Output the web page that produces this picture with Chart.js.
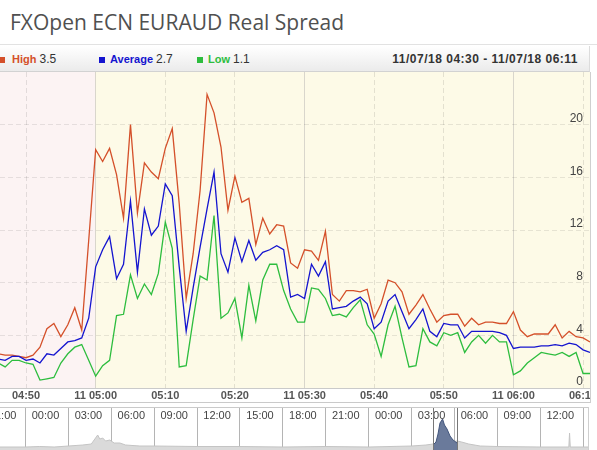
<!DOCTYPE html>
<html lang="en">
<head>
<meta charset="UTF-8">
<title>FXOpen ECN EURAUD Real Spread</title>
<script src="https://cdn.jsdelivr.net/npm/chart.js@4.4.0/dist/chart.umd.min.js"></script>
<style>
    body { margin: 0; width: 597px; height: 450px; overflow: hidden; background: #fff; position: relative;
           font-family: "Liberation Sans", Arial, sans-serif; }
    #title { position: absolute; left: 10px; top: 8px; line-height: 21px; font: 21px "Open Sans", sans-serif; color: #505050; white-space: nowrap; }
    #sep { position: absolute; left: 0; top: 44px; width: 597px; border-top: 1px solid #e2e2e2; }
    #bar { position: absolute; left: 0; top: 46px; width: 589px; height: 25px; background: linear-gradient(#ffffff, #ebebeb);
           border-bottom: 1px solid #d2d2d2; border-right: 1px solid #dcdcdc; }
    .sq { position: absolute; top: 57px; width: 6px; height: 6px; }
    .lg { position: absolute; top: 53px; line-height: 12px; font-size: 11px; font-weight: bold; white-space: nowrap; }
    .lg span { color: #333; font-weight: normal; font-size: 12px; }
    #range { position: absolute; right: 19px; top: 53px; line-height: 12px; font-size: 12px; font-weight: bold; color: #333; letter-spacing: 0.5px; }
    #main { position: absolute; left: 0; top: 72px; }
    #nav { position: absolute; left: 0; top: 407px; }
    .hl { position: absolute; left: 0; height: 0; border-top: 1px solid #cacaca; }
    .vl { position: absolute; width: 0; border-left: 1px solid #cfcfcf; }
</style>
</head>
<body>
    <div id="title">FXOpen ECN EURAUD Real Spread</div>
    <div id="sep"></div>
    <div id="bar"></div>
    <div class="sq" style="left:-1px;background:#d4502a"></div>
    <div class="lg" style="left:12px;color:#d4502a">High <span>3.5</span></div>
    <div class="sq" style="left:99px;background:#1414cf"></div>
    <div class="lg" style="left:110px;color:#1414cf">Average <span>2.7</span></div>
    <div class="sq" style="left:197px;background:#2dbd3e"></div>
    <div class="lg" style="left:208px;color:#2dbd3e">Low <span>1.1</span></div>
    <div id="range">11/07/18 04:30 - 11/07/18 06:11</div>

    <canvas id="main" width="590" height="331"></canvas>
    <canvas id="nav" width="588" height="43"></canvas>

    <div class="hl" style="top:388px;width:590px"></div>
    <div class="hl" style="top:402px;width:590px"></div>
    <div class="hl" style="top:407px;width:588px"></div>
    <div class="vl" style="left:590px;top:72px;height:331px"></div>
    <div class="vl" style="left:588px;top:407px;height:43px"></div>

<script>
// one point per minute, 04:46 .. 06:11
var times = [
    '04:46','04:47','04:48','04:49','04:50','04:51','04:52','04:53','04:54','04:55','04:56','04:57','04:58','04:59',
    '05:00','05:01','05:02','05:03','05:04','05:05','05:06','05:07','05:08','05:09','05:10','05:11','05:12','05:13',
    '05:14','05:15','05:16','05:17','05:18','05:19','05:20','05:21','05:22','05:23','05:24','05:25','05:26','05:27',
    '05:28','05:29','05:30','05:31','05:32','05:33','05:34','05:35','05:36','05:37','05:38','05:39','05:40','05:41',
    '05:42','05:43','05:44','05:45','05:46','05:47','05:48','05:49','05:50','05:51','05:52','05:53','05:54','05:55',
    '05:56','05:57','05:58','05:59','06:00','06:01','06:02','06:03','06:04','06:05','06:06','06:07','06:08','06:09',
    '06:10','06:11'
];
var high = [
    2.6, 2.5, 2.5, 2.4, 2.3, 2.5, 3.1, 4.5, 4.9, 3.9, 4.8, 6.1, 4.4, 11.2,
    18.1, 17.2, 18.2, 16.2, 12.9, 20.0, 13.3, 17.1, 16.4, 15.9, 18.2, 19.7, 14.0, 6.8,
    10.2, 15.0, 22.3, 20.9, 18.3, 13.5, 16.1, 14.1, 14.4, 10.9, 12.9, 11.7, 12.4, 12.3,
    9.5, 9.1, 10.5, 10.4, 9.7, 11.9, 7.1, 6.6, 7.4, 7.4, 7.3, 7.5, 5.3, 6.4,
    8.2, 8.0, 7.3, 5.6, 6.3, 7.1, 6.0, 5.0, 5.5, 5.6, 5.6, 4.7, 5.3, 4.8,
    5.0, 5.0, 4.9, 4.9, 5.8, 4.4, 3.9, 4.1, 4.1, 4.1, 4.8, 3.8, 4.3, 3.9,
    3.8, 3.5
];
var average = [
    2.2, 2.1, 2.4, 2.4, 2.1, 2.2, 1.9, 2.6, 2.5, 3.0, 3.5, 3.6, 3.8, 5.3,
    9.2, 10.5, 11.5, 8.3, 9.4, 14.2, 8.8, 13.6, 11.6, 12.3, 15.5, 14.6, 9.2, 4.3,
    7.6, 10.7, 13.6, 16.4, 10.2, 8.8, 11.4, 9.6, 11.2, 9.7, 10.3, 10.5, 10.8, 10.5,
    6.9, 7.1, 6.8, 9.4, 8.5, 9.6, 6.0, 6.1, 6.2, 6.6, 6.9, 6.4, 4.5, 5.0,
    6.6, 7.1, 5.8, 4.5, 5.2, 6.0, 4.3, 3.9, 4.9, 4.8, 4.8, 3.8, 4.3, 4.3,
    4.3, 4.3, 4.2, 4.0, 3.0, 3.1, 3.1, 3.1, 3.2, 3.2, 3.3, 3.2, 3.4, 3.3,
    2.9, 2.7
];
var low = [
    1.9, 1.6, 2.1, 2.1, 1.9, 1.8, 0.6, 0.7, 0.8, 1.9, 2.6, 3.1, 3.3, 2.1,
    0.9, 1.7, 2.1, 5.5, 5.6, 8.6, 6.8, 7.9, 7.1, 8.7, 12.6, 10.6, 1.6, 1.7,
    5.2, 8.5, 8.2, 13.1, 5.3, 5.7, 6.8, 3.8, 7.8, 5.1, 8.2, 9.4, 9.4, 7.4,
    6.0, 5.0, 5.0, 7.6, 7.5, 6.8, 5.5, 5.6, 5.4, 6.1, 6.7, 4.8, 4.1, 2.4,
    4.8, 6.2, 3.8, 1.6, 1.7, 4.5, 3.5, 3.2, 4.2, 4.0, 4.2, 2.7, 3.5, 4.0,
    3.4, 4.0, 3.5, 3.5, 1.0, 1.3, 1.9, 2.3, 2.7, 2.6, 2.5, 2.7, 2.4, 2.7,
    1.1, 1.1
];
var tickTimes = ['04:50', '05:00', '05:10', '05:20', '05:30', '05:40', '05:50', '06:00', '06:10'];
var tickLabels = ['04:50', '11 05:00', '05:10', '05:20', '11 05:30', '05:40', '05:50', '11 06:00', '06:10'];
var yTicks = [0, 4, 8, 12, 16, 20];

// navigator: hours from 00:00 of the previous day, heights
var navHours  = [-1.8, 0, 1, 2, 3, 4, 4.6, 4.9, 5.05, 5.2, 5.4, 5.6, 5.9, 6.2, 6.6, 7, 8, 9, 12, 15, 18, 21, 24, 27, 28, 28.5,
                 30.2, 30.5, 31, 31.8, 33, 36, 38, 38.05, 38.1, 39.4];
var navValues = [3, 3, 3.5, 3, 4, 5, 6, 12, 15, 11, 12, 9, 10, 7, 7, 5, 4, 4, 3.5, 3.5, 3, 3.5, 3, 4, 5, 6,
                 9, 8, 6, 4, 3.5, 3, 3, 17, 3, 3];
var selHours  = [28.5, 28.71, 28.85, 28.99, 29.17, 29.3, 29.48, 29.69, 29.9, 30.18];
var selValues = [5, 8, 16, 27, 31, 25, 21, 14, 10, 7];
var selRange = [28.5, 30.183];
var navTickHours  = [-3, 0, 3, 6, 9, 12, 15, 18, 21, 24, 27, 30, 33, 36, 39];
var navTickLabels = ['21:00', '00:00', '03:00', '06:00', '09:00', '12:00', '15:00', '18:00', '21:00',
                     '00:00', '03:00', '06:00', '09:00', '12:00', '15:00'];

function toMin(t) {
    var p = t.split(':');
    return (+p[0]) * 60 + (+p[1]) - 240;
}
function series(vals) {
    return times.map(function (t, i) { return {x: toMin(t), y: vals[i]}; });
}

Chart.defaults.font.family = '"Liberation Sans", Arial, sans-serif';

var bgPlugin = {
    id: 'bg',
    beforeDraw: function (c) {
        var a = c.chartArea, ctx = c.ctx;
        var split = c.scales.x.getPixelForValue(toMin('05:00'));
        ctx.save();
        ctx.fillStyle = '#fcf3f3';
        ctx.fillRect(a.left, a.top, split - a.left, a.bottom - a.top);
        ctx.fillStyle = '#fdfae7';
        ctx.fillRect(split, a.top, a.right - split, a.bottom - a.top);
        ctx.restore();
    }
};

function isSolid(ctx) {
    return ctx.tick && tickLabels[ctx.index] && tickLabels[ctx.index].indexOf('11 ') === 0;
}

new Chart(document.getElementById('main'), {
    type: 'line',
    data: {
        datasets: [
            {label: 'Average', data: series(average), borderColor: '#1414cf'},
            {label: 'High', data: series(high), borderColor: '#d4502a'},
            {label: 'Low', data: series(low), borderColor: '#2dbd3e'}
        ]
    },
    options: {
        responsive: false,
        animation: false,
        events: [],
        layout: {padding: 0},
        plugins: {legend: {display: false}, tooltip: {enabled: false}},
        elements: {point: {radius: 0}, line: {borderWidth: 1.3, tension: 0}},
        scales: {
            x: {
                type: 'linear', min: 46.26, max: 131,
                afterBuildTicks: function (s) { s.ticks = tickTimes.map(function (t) { return {value: toMin(t)}; }); },
                afterFit: function (s) { s.height = 15; s.paddingLeft = 0; s.paddingRight = 0; },
                ticks: {
                    autoSkip: false, maxRotation: 0, padding: 1, color: '#555',
                    font: {size: 11, weight: 'bold'},
                    callback: function (v, i) { return tickLabels[i]; }
                },
                grid: {
                    drawTicks: false,
                    color: function (ctx) { return isSolid(ctx) ? '#d9d6cc' : 'rgba(0,0,0,0.1)'; }
                },
                border: {display: false, dash: function (ctx) { return isSolid(ctx) ? [] : [5, 3]; }}
            },
            y: {
                position: 'right', min: 0, max: 24,
                afterBuildTicks: function (s) { s.ticks = yTicks.map(function (v) { return {value: v}; }); },
                afterFit: function (s) { s.width = 0; s.paddingTop = 0; s.paddingBottom = 0; },
                ticks: {mirror: true, crossAlign: 'near', padding: -7, labelOffset: -6, color: '#444', font: {size: 12}},
                grid: {drawTicks: false, color: 'rgba(0,0,0,0.09)'},
                border: {display: false, dash: [5, 3]}
            }
        }
    },
    plugins: [bgPlugin]
});

var navPlugin = {
    id: 'navLabels',
    afterDraw: function (c) {
        var ctx = c.ctx, x = c.scales.x, a = c.chartArea;
        ctx.save();
        ctx.font = '11px "Liberation Sans", Arial, sans-serif';
        ctx.fillStyle = '#444';
        ctx.textAlign = 'center';
        ctx.textBaseline = 'middle';
        navTickHours.forEach(function (h, i) {
            ctx.fillText(navTickLabels[i], x.getPixelForValue(h) + 20, 9);
        });
        ctx.strokeStyle = '#777';
        ctx.lineWidth = 1;
        selRange.forEach(function (h) {
            var px = Math.round(x.getPixelForValue(h)) + 0.5;
            ctx.beginPath();
            ctx.moveTo(px, a.top);
            ctx.lineTo(px, a.bottom);
            ctx.stroke();
        });
        ctx.restore();
    }
};

new Chart(document.getElementById('nav'), {
    type: 'line',
    data: {
        datasets: [
            {data: selHours.map(function (h, i) { return {x: h, y: selValues[i]}; }),
             borderColor: '#42557c', backgroundColor: '#6a7a9b', fill: 'origin', borderWidth: 1},
            {data: navHours.map(function (h, i) { return {x: h, y: navValues[i]}; }),
             borderColor: '#c4c4c4', backgroundColor: '#dadada', fill: 'origin', borderWidth: 1}
        ]
    },
    options: {
        responsive: false,
        animation: false,
        events: [],
        layout: {padding: 0},
        plugins: {legend: {display: false}, tooltip: {enabled: false}},
        elements: {point: {radius: 0}, line: {tension: 0}},
        scales: {
            x: {
                type: 'linear', min: -1.783, max: 39.34,
                afterBuildTicks: function (s) { s.ticks = navTickHours.map(function (h) { return {value: h}; }); },
                afterFit: function (s) { s.height = 0; s.paddingLeft = 0; s.paddingRight = 0; },
                ticks: {display: false},
                grid: {drawTicks: false, color: '#b4b4b4'},
                border: {display: false}
            },
            y: {display: false, min: 0, max: 43}
        }
    },
    plugins: [navPlugin]
});
</script>
</body>
</html>
